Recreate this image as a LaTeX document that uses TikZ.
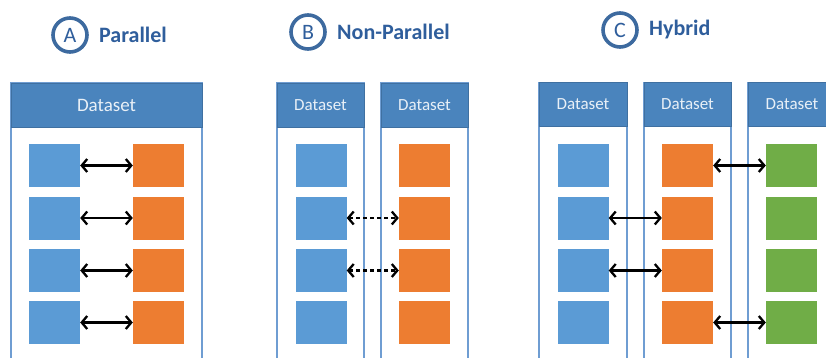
\documentclass[tikz,border=0pt]{standalone}
\usepackage{fontspec}
\setmainfont{Carlito}
\usepackage{xcolor}
\usetikzlibrary{arrows.meta}

\definecolor{hdrblue}{HTML}{4A84BD}
\definecolor{boxline}{HTML}{6F9DD2}
\definecolor{sqblue}{HTML}{5B9BD5}
\definecolor{sqorange}{HTML}{ED7D31}
\definecolor{sqgreen}{HTML}{70AD47}
\definecolor{titleblue}{HTML}{2F5E9C}
\definecolor{ringblue}{HTML}{3D6A9F}

\begin{document}
\begin{tikzpicture}[x=1pt, y=-1pt, >={Straight Barb[length=5.5pt, width=13pt]},
    sq/.style={minimum width=51pt, minimum height=43pt, inner sep=0pt},
    blu/.style={sq, fill=sqblue},
    org/.style={sq, fill=sqorange},
    grn/.style={sq, fill=sqgreen},
    frame/.style={draw=boxline, line width=1.2pt},
    hdr/.style={fill=hdrblue, draw=hdrblue!85!black, line width=0.8pt, minimum height=44pt,
        inner sep=0pt, text=white!88!hdrblue, font=\fontsize{17}{20}\selectfont},
    ring/.style={circle, draw=ringblue, line width=3.6pt, fill=white, minimum size=34pt,
        inner sep=0pt, text=titleblue, font=\fontsize{22}{22}\selectfont},
    ttl/.style={anchor=west, inner sep=0pt, text=titleblue, font=\bfseries\fontsize{22}{24}\selectfont},
    link/.style={<->, line width=2.3pt}]

\useasboundingbox (0,0) rectangle (826,358);
\clip (0,0) rectangle (826,358);

% Titles
\node[ring] (ringA) at (70, 35) {A};
\node[ttl] (ttlA) at (99, 35) {Parallel};
\node[ring] (ringB) at (308, 32) {B};
\node[ttl] (ttlB) at (337, 32) {Non-Parallel};
\node[ring] (ringC) at (620, 30) {C};
\node[ttl] (ttlC) at (649, 30) {Hybrid};

% Panel A: one dataset
\draw[frame] (11, 83) rectangle (202, 370);
\node[hdr, minimum width=191pt, font=\fontsize{19}{22}\selectfont] (hdrA) at (106.5, 105) {Dataset};
\node[blu] (aL1) at (54.5, 165.5) {};
\node[blu] (aL2) at (54.5, 218) {};
\node[blu] (aL3) at (54.5, 270.5) {};
\node[blu] (aL4) at (54.5, 322.5) {};
\node[org] (aR1) at (158.5, 165.5) {};
\node[org] (aR2) at (158.5, 218) {};
\node[org] (aR3) at (158.5, 270.5) {};
\node[org] (aR4) at (158.5, 322.5) {};
\draw[link] (aL1) -- (aR1);
\draw[link] (aL2) -- (aR2);
\draw[link] (aL3) -- (aR3);
\draw[link] (aL4) -- (aR4);

% Panel B: two datasets
\draw[frame] (277, 83) rectangle (364, 370);
\draw[frame] (381, 83) rectangle (468, 370);
\node[hdr, minimum width=87pt] (hdrB1) at (320.5, 105) {Dataset};
\node[hdr, minimum width=87pt] (hdrB2) at (424.5, 105) {Dataset};
\node[blu] (bL1) at (321, 165.5) {};
\node[blu] (bL2) at (321, 218) {};
\node[blu] (bL3) at (321, 270.5) {};
\node[blu] (bL4) at (321, 322.5) {};
\node[org] (bR1) at (424.5, 165.5) {};
\node[org] (bR2) at (424.5, 218) {};
\node[org] (bR3) at (424.5, 270.5) {};
\node[org] (bR4) at (424.5, 322.5) {};
\draw[link, dash pattern=on 4pt off 3pt] (bL2) -- (bR2);
\draw[link, dash pattern=on 4pt off 3pt] (bL3) -- (bR3);

% Panel C: three datasets
\draw[frame] (539, 83) rectangle (627, 370);
\draw[frame] (644, 83) rectangle (731, 370);
\draw[frame] (748, 83) rectangle (836, 370);
\node[hdr, minimum width=88pt] (hdrC1) at (583, 104.5) {Dataset};
\node[hdr, minimum width=87pt] (hdrC2) at (687.5, 104.5) {Dataset};
\node[hdr, minimum width=88pt] (hdrC3) at (792, 104.5) {Dataset};
\node[blu] (cL1) at (583, 165.5) {};
\node[blu] (cL2) at (583, 218) {};
\node[blu] (cL3) at (583, 270.5) {};
\node[blu] (cL4) at (583, 322.5) {};
\node[org] (cM1) at (687.5, 165.5) {};
\node[org] (cM2) at (687.5, 218) {};
\node[org] (cM3) at (687.5, 270.5) {};
\node[org] (cM4) at (687.5, 322.5) {};
\node[grn] (cR1) at (791.5, 165.5) {};
\node[grn] (cR2) at (791.5, 218) {};
\node[grn] (cR3) at (791.5, 270.5) {};
\node[grn] (cR4) at (791.5, 322.5) {};
\draw[link] (cM1) -- (cR1);
\draw[link] (cL2) -- (cM2);
\draw[link] (cL3) -- (cM3);
\draw[link] (cM4) -- (cR4);

\end{tikzpicture}
\end{document}
